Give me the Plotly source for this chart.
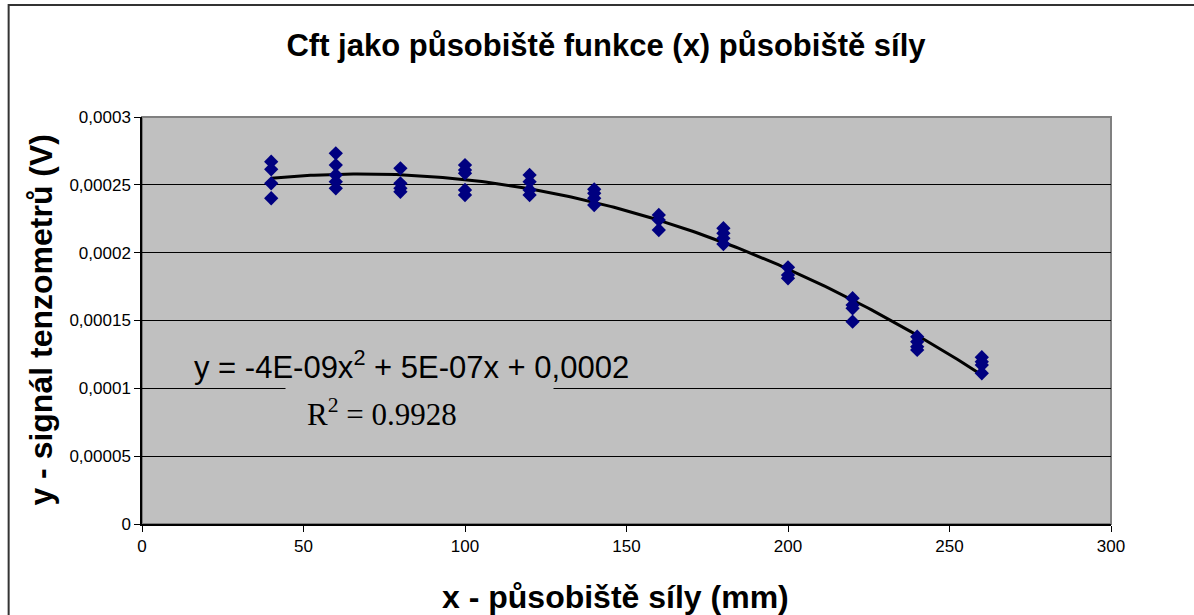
import numpy as np
import plotly.graph_objects as go

# ---- data ----
x_pos = [40, 40, 40, 40,
         60, 60, 60, 60, 60,
         80, 80, 80, 80,
         100, 100, 100, 100, 100,
         120, 120, 120, 120,
         140, 140, 140, 140,
         160, 160, 160,
         180, 180, 180, 180,
         200, 200, 200,
         220, 220, 220, 220,
         240, 240, 240, 240,
         260, 260, 260, 260]
signal = [0.0002671, 0.0002614, 0.0002511, 0.0002401,
          0.0002732, 0.0002646, 0.0002573, 0.0002523, 0.0002474,
          0.0002622, 0.0002511, 0.0002474, 0.0002449,
          0.0002646, 0.0002609, 0.0002585, 0.0002462, 0.0002425,
          0.0002573, 0.0002523, 0.0002462, 0.0002425,
          0.0002467, 0.0002438, 0.0002401, 0.0002351,
          0.0002278, 0.0002241, 0.0002167,
          0.0002180, 0.0002143, 0.0002106, 0.0002064,
          0.0001892, 0.0001835, 0.0001811,
          0.0001664, 0.0001614, 0.0001590, 0.0001491,
          0.0001381, 0.0001344, 0.0001307, 0.0001283,
          0.0001229, 0.0001196, 0.0001172, 0.0001111]

x_ticks = [0, 50, 100, 150, 200, 250, 300]
y_ticks = [0, 0.00005, 0.0001, 0.00015, 0.0002, 0.00025, 0.0003]
y_ticktext = ["0", "0,00005", "0,0001", "0,00015", "0,0002", "0,00025", "0,0003"]

title_text = "Cft jako působiště funkce (x) působiště síly"
x_title = "x - působiště síly (mm)"
y_title = "y - signál tenzometrů (V)"
eq_text = "y = -4E-09x<sup>2</sup> + 5E-07x + 0,0002"
r2_text = "R<sup>2</sup> = 0.9928"

# polynomial trendline (order 2) fitted to the data
coef = np.polyfit(x_pos, signal, 2)
xt = np.linspace(min(x_pos), max(x_pos), 200)
yt = np.polyval(coef, xt)

W, H = 1194, 615
L, R, T, B = 141.5, 1111.5, 117, 524
SANS = "Liberation Sans, Arial, sans-serif"
SERIF = "Liberation Serif, Times New Roman, serif"

def px(xp):
    return (xp - L) / (R - L)

def py(yp):
    return (B - yp) / (B - T)

fig = go.Figure()
fig.add_trace(go.Scatter(x=xt, y=yt, mode="lines",
                         line=dict(color="black", width=3),
                         hoverinfo="skip", showlegend=False))
fig.add_trace(go.Scatter(x=x_pos, y=signal, mode="markers",
                         marker=dict(symbol="diamond", size=11, color="#000080",
                                     line=dict(width=0)),
                         showlegend=False))

fig.update_layout(
    width=W, height=H,
    margin=dict(l=L, r=W - R, t=T, b=H - B, pad=0),
    paper_bgcolor="white",
    plot_bgcolor="#C0C0C0",
    font=dict(family=SANS, color="black", size=17),
    showlegend=False,
    xaxis=dict(range=[0, 300], tickvals=x_ticks, ticks="outside", ticklen=6,
               tickcolor="black", showline=True, linecolor="black", linewidth=1.5,
               showgrid=False, zeroline=False, tickfont=dict(size=17)),
    yaxis=dict(range=[0, 0.0003], tickvals=y_ticks, ticktext=y_ticktext,
               ticks="outside", ticklen=6, tickcolor="black",
               showline=True, linecolor="black", linewidth=1.5,
               showgrid=True, gridcolor="black", gridwidth=1, zeroline=False,
               tickfont=dict(size=17)),
    title=dict(text="<b>" + title_text + "</b>", x=606 / W, xanchor="center",
               y=1 - 45 / H, yanchor="middle", font=dict(size=31)),
)

# plot-area frame and outer chart border
fig.add_shape(type="rect", xref="paper", yref="paper", x0=0, x1=1, y0=0, y1=1,
              line=dict(color="#808080", width=2), layer="below")
fig.add_shape(type="rect", xref="paper", yref="paper",
              x0=px(8), x1=px(1300), y0=py(700), y1=py(5),
              line=dict(color="#333333", width=2), layer="above")

# axis titles
fig.add_annotation(xref="paper", yref="paper", x=px(615), y=py(597),
                   text="<b>" + x_title + "</b>", showarrow=False,
                   xanchor="center", yanchor="middle", font=dict(size=32))
fig.add_annotation(xref="paper", yref="paper", x=px(40), y=py(320),
                   text="<b>" + y_title + "</b>", showarrow=False, textangle=-90,
                   xanchor="center", yanchor="middle", font=dict(size=32))

# trendline labels
fig.add_annotation(xref="paper", yref="paper", x=px(419.5), y=py(391),
                   text=" ", showarrow=False, width=265, height=30,
                   bgcolor="#C0C0C0", xanchor="center", yanchor="middle")
fig.add_annotation(xref="paper", yref="paper", x=px(411), y=py(365),
                   text=eq_text, showarrow=False, xanchor="center", yanchor="middle",
                   font=dict(family=SANS, size=31))
fig.add_annotation(xref="paper", yref="paper", x=px(381.5), y=py(412),
                   text=r2_text, showarrow=False, xanchor="center", yanchor="middle",
                   font=dict(family=SERIF, size=31))

fig.write_html("out.html", config={"displayModeBar": False},
               post_script="document.body.style.margin='0';")
